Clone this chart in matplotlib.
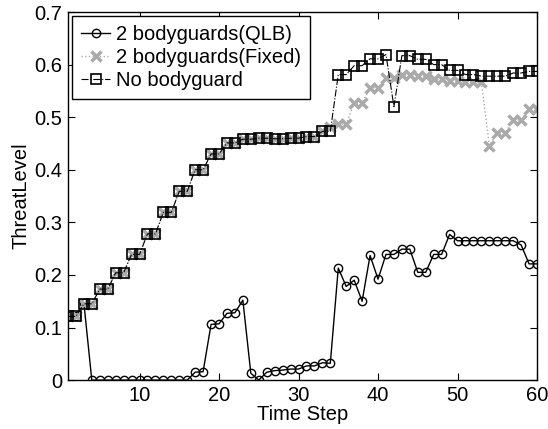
import matplotlib
matplotlib.use('Agg')
import matplotlib.pyplot as plt
import numpy as np

steps = np.arange(1, 61)

qlb = [0.122, 0.122, 0.147] + [0.0] * 13 + [
    0.015, 0.016, 0.106, 0.107, 0.127, 0.128, 0.152, 0.013, 0.0, 0.015,
    0.018, 0.019, 0.021, 0.021, 0.027, 0.027, 0.033, 0.032, 0.213, 0.178,
    0.190, 0.150, 0.237, 0.192, 0.239, 0.239, 0.249, 0.249, 0.205, 0.205,
    0.239, 0.239, 0.277, 0.265, 0.265, 0.265, 0.265, 0.265, 0.265, 0.265,
    0.265, 0.257, 0.221, 0.221]

none = [0.121, 0.121, 0.145, 0.145, 0.173, 0.173, 0.204, 0.204, 0.239, 0.239,
        0.278, 0.278, 0.319, 0.319, 0.359, 0.359, 0.400, 0.400, 0.430, 0.430,
        0.451, 0.451, 0.458, 0.458, 0.460, 0.460, 0.459, 0.459, 0.460, 0.460,
        0.463, 0.463, 0.473, 0.473, 0.581, 0.581, 0.598, 0.598, 0.611, 0.611,
        0.619, 0.520, 0.617, 0.617, 0.610, 0.610, 0.600, 0.600, 0.589, 0.589,
        0.581, 0.581, 0.578, 0.578, 0.578, 0.578, 0.584, 0.584, 0.587, 0.587]

fixed = none[:33] + [
    0.482, 0.487, 0.487, 0.527, 0.527, 0.556, 0.556, 0.575, 0.575, 0.580,
    0.580, 0.579, 0.578, 0.572, 0.572, 0.568, 0.568, 0.566, 0.566, 0.566,
    0.446, 0.470, 0.470, 0.495, 0.495, 0.516, 0.516]

plt.rcParams['font.family'] = ['Liberation Sans', 'DejaVu Sans']
plt.rcParams['font.size'] = 14.5

fig = plt.figure(figsize=(5.48, 4.29), dpi=100)
ax = fig.add_axes([0.124, 0.114, 0.856, 0.858])

ax.plot(steps, qlb, '-', color='black', lw=1.0, marker='o', ms=6,
        mfc='none', mec='black', mew=1.0, label='2 bodyguards(QLB)')
ax.plot(steps, fixed, ':', color='#aaaaaa', lw=1.0, marker='x', ms=7,
        mec='#aaaaaa', mew=2.5, label='2 bodyguards(Fixed)')
ax.plot(steps, none, '-.', color='black', lw=0.8, marker='s', ms=6.5,
        mfc='none', mec='black', mew=1.2, label='No bodyguard')

ax.set_xlim(1, 60)
ax.set_ylim(0, 0.7)
ax.set_xticks([10, 20, 30, 40, 50, 60])
ax.set_yticks([0, 0.1, 0.2, 0.3, 0.4, 0.5, 0.6, 0.7])
ax.set_yticklabels(['0', '0.1', '0.2', '0.3', '0.4', '0.5', '0.6', '0.7'])
ax.tick_params(direction='in', top=True, right=True, length=5, width=0.8, pad=4)
for s in ax.spines.values():
    s.set_linewidth(1.0)

ax.set_xlabel('Time Step', labelpad=0)
ax.set_ylabel('ThreatLevel', labelpad=3)

leg = ax.legend(loc='upper left', fancybox=False, edgecolor='black',
                framealpha=1, handlelength=1.45, handletextpad=0.3,
                labelspacing=0.2, borderpad=0.45, borderaxespad=0.2)
leg.get_frame().set_linewidth(1.0)

fig.savefig('out.png', dpi=100)
